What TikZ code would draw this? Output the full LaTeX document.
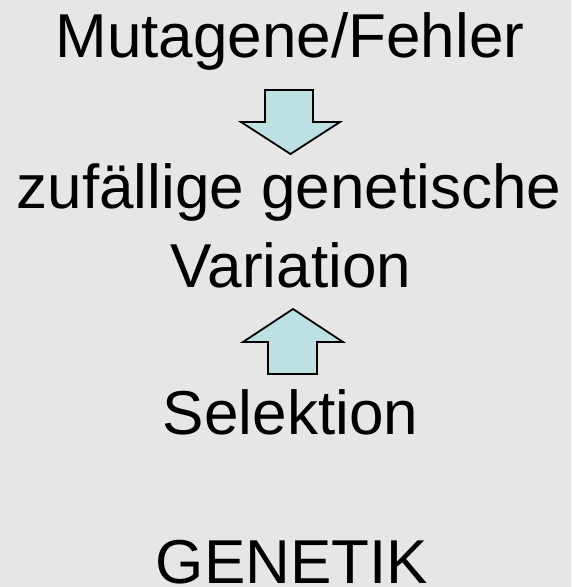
\documentclass[tikz,border=0pt]{standalone}
\usepackage{fontspec}
\setmainfont{Liberation Sans}
\definecolor{bg}{RGB}{230,230,230}
\definecolor{arrowfill}{RGB}{189,224,227}
\begin{document}
\begin{tikzpicture}[x=1pt,y=-1pt,
  label/.style={anchor=base,inner sep=0pt,font=\fontsize{62}{74}\selectfont},
  blockarrow/.style={draw=black,fill=arrowfill,line width=1.8pt,line join=miter}]
  \fill[bg] (0,0) rectangle (571,587);
  \useasboundingbox (0,0) rectangle (571,587);

  \node[label] (mut) at (290,57.5) {Mutagene/Fehler};
  \node[label] (zuf) at (289,208) {zufällige genetische};
  \node[label] (var) at (291,287.5) {Variation};
  \node[label] (sel) at (290.5,434) {Selektion};
  \node[label] (gen) at (292,583) {GENETIK};

  % block arrow pointing down, from the causes to the variation
  \draw[blockarrow] (265,90) -- (313,90) -- (313,122) -- (340,122)
    -- (290.5,154) -- (241,122) -- (265,122) -- cycle;
  % block arrow pointing up, from selection to the variation
  \draw[blockarrow] (268,374) -- (317,374) -- (317,342) -- (343,342)
    -- (293,309) -- (243,342) -- (268,342) -- cycle;
\end{tikzpicture}
\end{document}
